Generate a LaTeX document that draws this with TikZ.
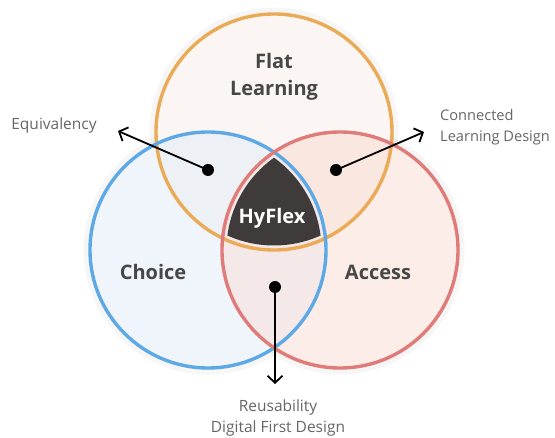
\documentclass[tikz,border=0pt]{standalone}
\usepackage{fontspec}
\setmainfont{Open Sans}
\usetikzlibrary{arrows.meta}
\definecolor{orng}{HTML}{EAAA56}
\definecolor{blu}{HTML}{5DA9E6}
\definecolor{rd}{HTML}{DF7B79}
\definecolor{fO}{HTML}{FBF6F4}
\definecolor{fB}{HTML}{EFF5FB}
\definecolor{fR}{HTML}{FCEDE8}
\definecolor{fBO}{HTML}{EDF0F5}
\definecolor{fOR}{HTML}{FAE7E0}
\definecolor{fBR}{HTML}{F4E8E8}
\definecolor{hyf}{HTML}{3F3B3B}
\definecolor{lbl}{HTML}{474747}
\definecolor{small}{HTML}{666666}
\tikzset{
  ring/.style={circle, line width=3.4pt, minimum size=236pt, inner sep=0pt},
  glow/.style={line width=9pt, draw=black, draw opacity=0.035},
  big/.style={font=\bfseries\fontsize{20}{27}\selectfont, text=lbl, align=center},
  sml/.style={font=\fontsize{15.5}{21}\selectfont, text=small, align=left},
  dotnode/.style={circle, fill=black, minimum size=12pt, inner sep=0pt},
  arr/.style={line width=1.8pt, -{Straight Barb[length=7pt,width=15pt,line width=1.8pt]}}
}
\begin{document}
\begin{tikzpicture}[x=1pt,y=-1pt]
\useasboundingbox (0,0) rectangle (555,438);
\fill[white] (0,0) rectangle (555,438);
\def\rr{118}
% soft shadows
\draw[glow] (274,132) circle (\rr+2);
\draw[glow] (208,250) circle (\rr+2);
\draw[glow] (340,250) circle (\rr+2);
% fills
\fill[fO] (274,132) circle (\rr);
\fill[fB] (208,250) circle (\rr);
\fill[fR] (340,250) circle (\rr);
\begin{scope}\clip (208,250) circle (\rr); \fill[fBO] (274,132) circle (\rr); \end{scope}
\begin{scope}\clip (274,132) circle (\rr); \fill[fOR] (340,250) circle (\rr); \end{scope}
\begin{scope}\clip (208,250) circle (\rr); \fill[fBR] (340,250) circle (\rr); \end{scope}
\begin{scope}
  \clip (208,250) circle (113.5);
  \clip (340,250) circle (113.5);
  \fill[hyf] (274,132) circle (113.5);
\end{scope}
% rings
\node[ring, draw=orng] (flat) at (274,132) {};
\node[ring, draw=blu] (choice) at (208,250) {};
\node[ring, draw=rd] (access) at (340,250) {};
% labels
\node[big] (tflat) at (274,77) {Flat\\Learning};
\node[big] (tchoice) at (153,272) {Choice};
\node[big] (taccess) at (378,272) {Access};
\node[big, text=white] (thy) at (272,218) {HyFlex};
% dots and arrows
\node[dotnode] (d1) at (208,170) {};
\node[dotnode] (d2) at (336,170) {};
\node[dotnode] (d3) at (275,287) {};
\coordinate (a1) at (118,131);
\coordinate (a2) at (424,132);
\coordinate (a3) at (275,384);
\draw[arr] (d1.center) -- (a1);
\draw[arr] (d2.center) -- (a2);
\draw[arr] (d3.center) -- (a3);
\node[sml, anchor=center] (teq) at (54,125) {Equivalency};
\node[sml, anchor=west, inner xsep=0pt, font=\fontsize{14.6}{21}\selectfont] (tcon) at (440,127) {Connected\\Learning Design};
\node[sml, align=center] (treu) at (278,418) {Reusability\\Digital First Design};
\end{tikzpicture}
\end{document}
